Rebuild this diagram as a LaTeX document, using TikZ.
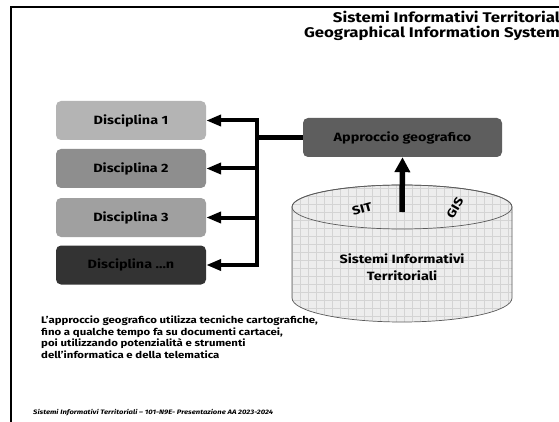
\documentclass[tikz,border=0pt]{standalone}
\usepackage{fontspec}
\setmainfont[FakeStretch=1.2]{Fira Sans}
\usetikzlibrary{arrows.meta}
\definecolor{cdA}{HTML}{B4B4B4}
\definecolor{cdB}{HTML}{8E8E8E}
\definecolor{cdC}{HTML}{A0A0A0}
\definecolor{cdN}{HTML}{333333}
\definecolor{cAp}{HTML}{5E5E5E}
\definecolor{cylfill}{HTML}{EDEDED}
\definecolor{cylgrid}{HTML}{D4D4D4}
\definecolor{cyledge}{HTML}{5A5A5A}
\tikzset{
  discbox/.style={rounded corners=5pt, minimum width=150pt, minimum height=39pt,
    inner sep=0pt, font=\fontsize{12}{14}\selectfont\bfseries, text=black},
  bus/.style={line width=4.5pt, line cap=butt},
  busarrow/.style={line width=4pt, -{Triangle[length=15pt,width=11pt]}},
  uparrow/.style={line width=5.5pt, -{Triangle[length=15pt,width=15pt]}},
  plain/.style={font=\fontsize{12}{14}\selectfont\bfseries, inner sep=0pt},
}
\begin{document}
\begin{tikzpicture}[x=1pt,y=-1pt]
\useasboundingbox (0,0) rectangle (559,422);
\fill[white] (0,0) rectangle (559,422);
% frame
\draw[line width=2pt] (11,423) -- (11,7) -- (560,7);
% title
\node[anchor=north east, align=right, inner sep=0pt,
      font=\fontsize{14}{14.5}\selectfont\bfseries] (title) at (560,11)
  {Sistemi Informativi Territorial\\Geographical Information System};
% discipline boxes
\node[discbox, fill=cdA] (d1) at (131,120.5) {Disciplina 1};
\node[discbox, fill=cdB] (d2) at (131,168.5) {Disciplina 2};
\node[discbox, fill=cdC] (d3) at (131,217.5) {Disciplina 3};
\node[discbox, fill=cdN] (dn) at (131,265) {Disciplina ...n};
% approccio
\node[discbox, fill=cAp, minimum width=199pt] (ap) at (402.5,137.5) {Approccio geografico};
% bus
\coordinate (bt) at (257,118.5);
\coordinate (bb) at (257,267.2);
\draw[bus] (bt) -- (bb);
\draw[line width=4.5pt] (ap.west) -- (ap.west -| bt);
\draw[busarrow] (d1.east -| bt) -- (d1.east);
\draw[busarrow] (d2.east -| bt) -- (d2.east);
\draw[busarrow] (d3.east -| bt) -- (d3.east);
\draw[busarrow] (dn.east -| bt) -- (dn.east);
% cylinder
\begin{scope}
  \clip (292,207) -- (292,298) arc[start angle=180, end angle=0, x radius=110, y radius=24]
        -- (512,207) arc[start angle=0, end angle=-180, x radius=110, y radius=22] -- cycle;
  \fill[cylfill] (280,170) rectangle (530,330);
  \foreach \gx in {292,300,...,516} {\draw[cylgrid, line width=0.5pt] (\gx,176) -- (\gx,330);}
  \foreach \gy in {180,188,...,330} {\draw[cylgrid, line width=0.5pt] (288,\gy) -- (520,\gy);}
\end{scope}
\draw[cyledge, line width=0.7pt] (292,207) -- (292,298) arc[start angle=180, end angle=0, x radius=110, y radius=24]
        -- (512,207) arc[start angle=0, end angle=-180, x radius=110, y radius=22];
\draw[cyledge, line width=0.7pt] (402,207) ellipse [x radius=110, y radius=22];
\node[plain, rotate=15] (sit) at (362,209) {SIT};
\node[plain, rotate=60] (gis) at (455,208) {GIS};
\node[plain, align=center, font=\fontsize{12}{17}\selectfont\bfseries] (sitlab) at (402,267)
  {Sistemi Informativi\\Territoriali};
\coordinate (cyltop) at (402,212);
\draw[uparrow] (cyltop) -- (ap.south);
% paragraph
\node[anchor=north west, align=left, inner sep=0pt,
      font=\fontsize{9.5}{11.5}\selectfont\bfseries] (para) at (41,316)
  {L’approccio geografico utilizza tecniche cartografiche,\\
   fino a qualche tempo fa su documenti cartacei,\\
   poi utilizzando potenzialità e strumenti\\
   dell’informatica e della telematica};
% footer
\node[anchor=west, inner sep=0pt, font=\fontsize{6.4}{8}\selectfont\bfseries\itshape] (foot) at (33,413)
  {Sistemi Informativi Territoriali – 101-N9E- Presentazione AA 2023-2024};
\end{tikzpicture}
\end{document}
